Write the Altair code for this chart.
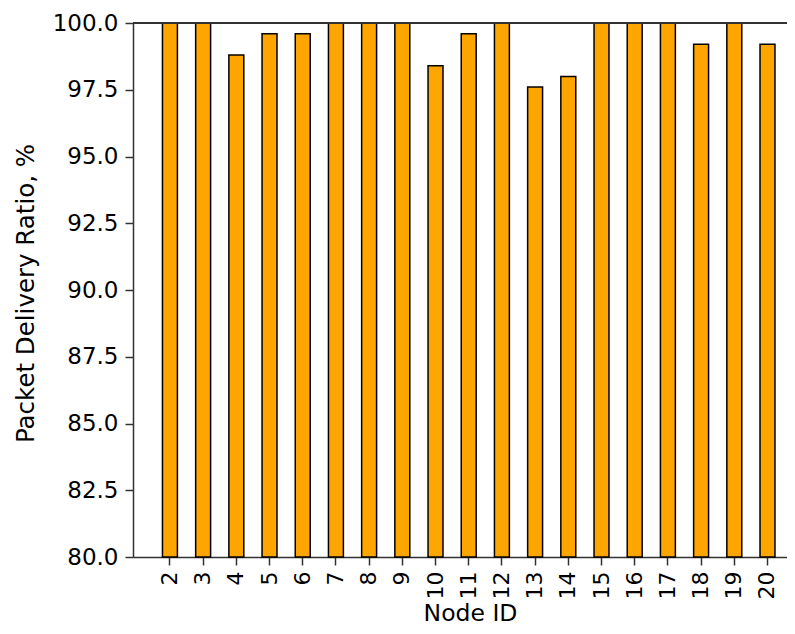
import altair as alt
import pandas as pd

nodes = [2, 3, 4, 5, 6, 7, 8, 9, 10, 11, 12, 13, 14, 15, 16, 17, 18, 19, 20]
pdr = [100.0, 100.0, 98.8, 99.6, 99.6, 100.0, 100.0, 100.0, 98.4, 99.6,
       100.0, 97.6, 98.0, 100.0, 100.0, 100.0, 99.2, 100.0, 99.2]
y_ticks = [80.0, 82.5, 85.0, 87.5, 90.0, 92.5, 95.0, 97.5, 100.0]

df = pd.DataFrame({"node": nodes, "pdr": pdr})

W, H = 654, 534
FONT = "DejaVu Sans"

bars = alt.Chart(df).mark_bar(
    color="#FFA500", stroke="black", strokeWidth=1.5
).encode(
    x=alt.X(
        "node:O",
        title="Node ID",
        scale=alt.Scale(paddingInner=0.55, paddingOuter=0.625, align=0.71),
        axis=alt.Axis(
            labelAngle=270,
            labelPadding=6,
            labelFontSize=22,
            titleX=337,
            titleY=63,
            titleFontSize=23.5,
            titleAlign="center",
            titleBaseline="alphabetic",
        ),
    ),
    y=alt.Y(
        "pdr:Q",
        title="Packet Delivery Ratio, %",
        scale=alt.Scale(domain=[80, 100], zero=False, nice=False),
        axis=alt.Axis(
            values=y_ticks,
            format=".1f",
            labelPadding=7,
            titleX=-100,
            titleY=270,
            titleAlign="center",
            titleBaseline="alphabetic",
            titleAngle=270,
        ),
    ),
    y2=alt.datum(80),
)

top = alt.Chart(df).mark_rule(color="#333333", strokeWidth=1.5).encode(
    y=alt.datum(100)
)

chart = (
    alt.layer(bars, top)
    .properties(
        width=W,
        height=H,
        autosize=alt.AutoSizeParams(type="none"),
        padding={"left": 125, "top": 15, "right": 0, "bottom": 69},
    )
    .configure_view(stroke=None)
    .configure_axis(
        grid=False,
        domainColor="#333333",
        domainWidth=1.5,
        tickColor="#333333",
        tickWidth=1.5,
        tickSize=8,
        labelFont=FONT,
        labelFontSize=23,
        labelColor="black",
        titleFont=FONT,
        titleFontSize=24.5,
        titleFontWeight="normal",
        titleColor="black",
    )
)

chart.save("out.html", embed_options={"renderer": "svg", "actions": False})
